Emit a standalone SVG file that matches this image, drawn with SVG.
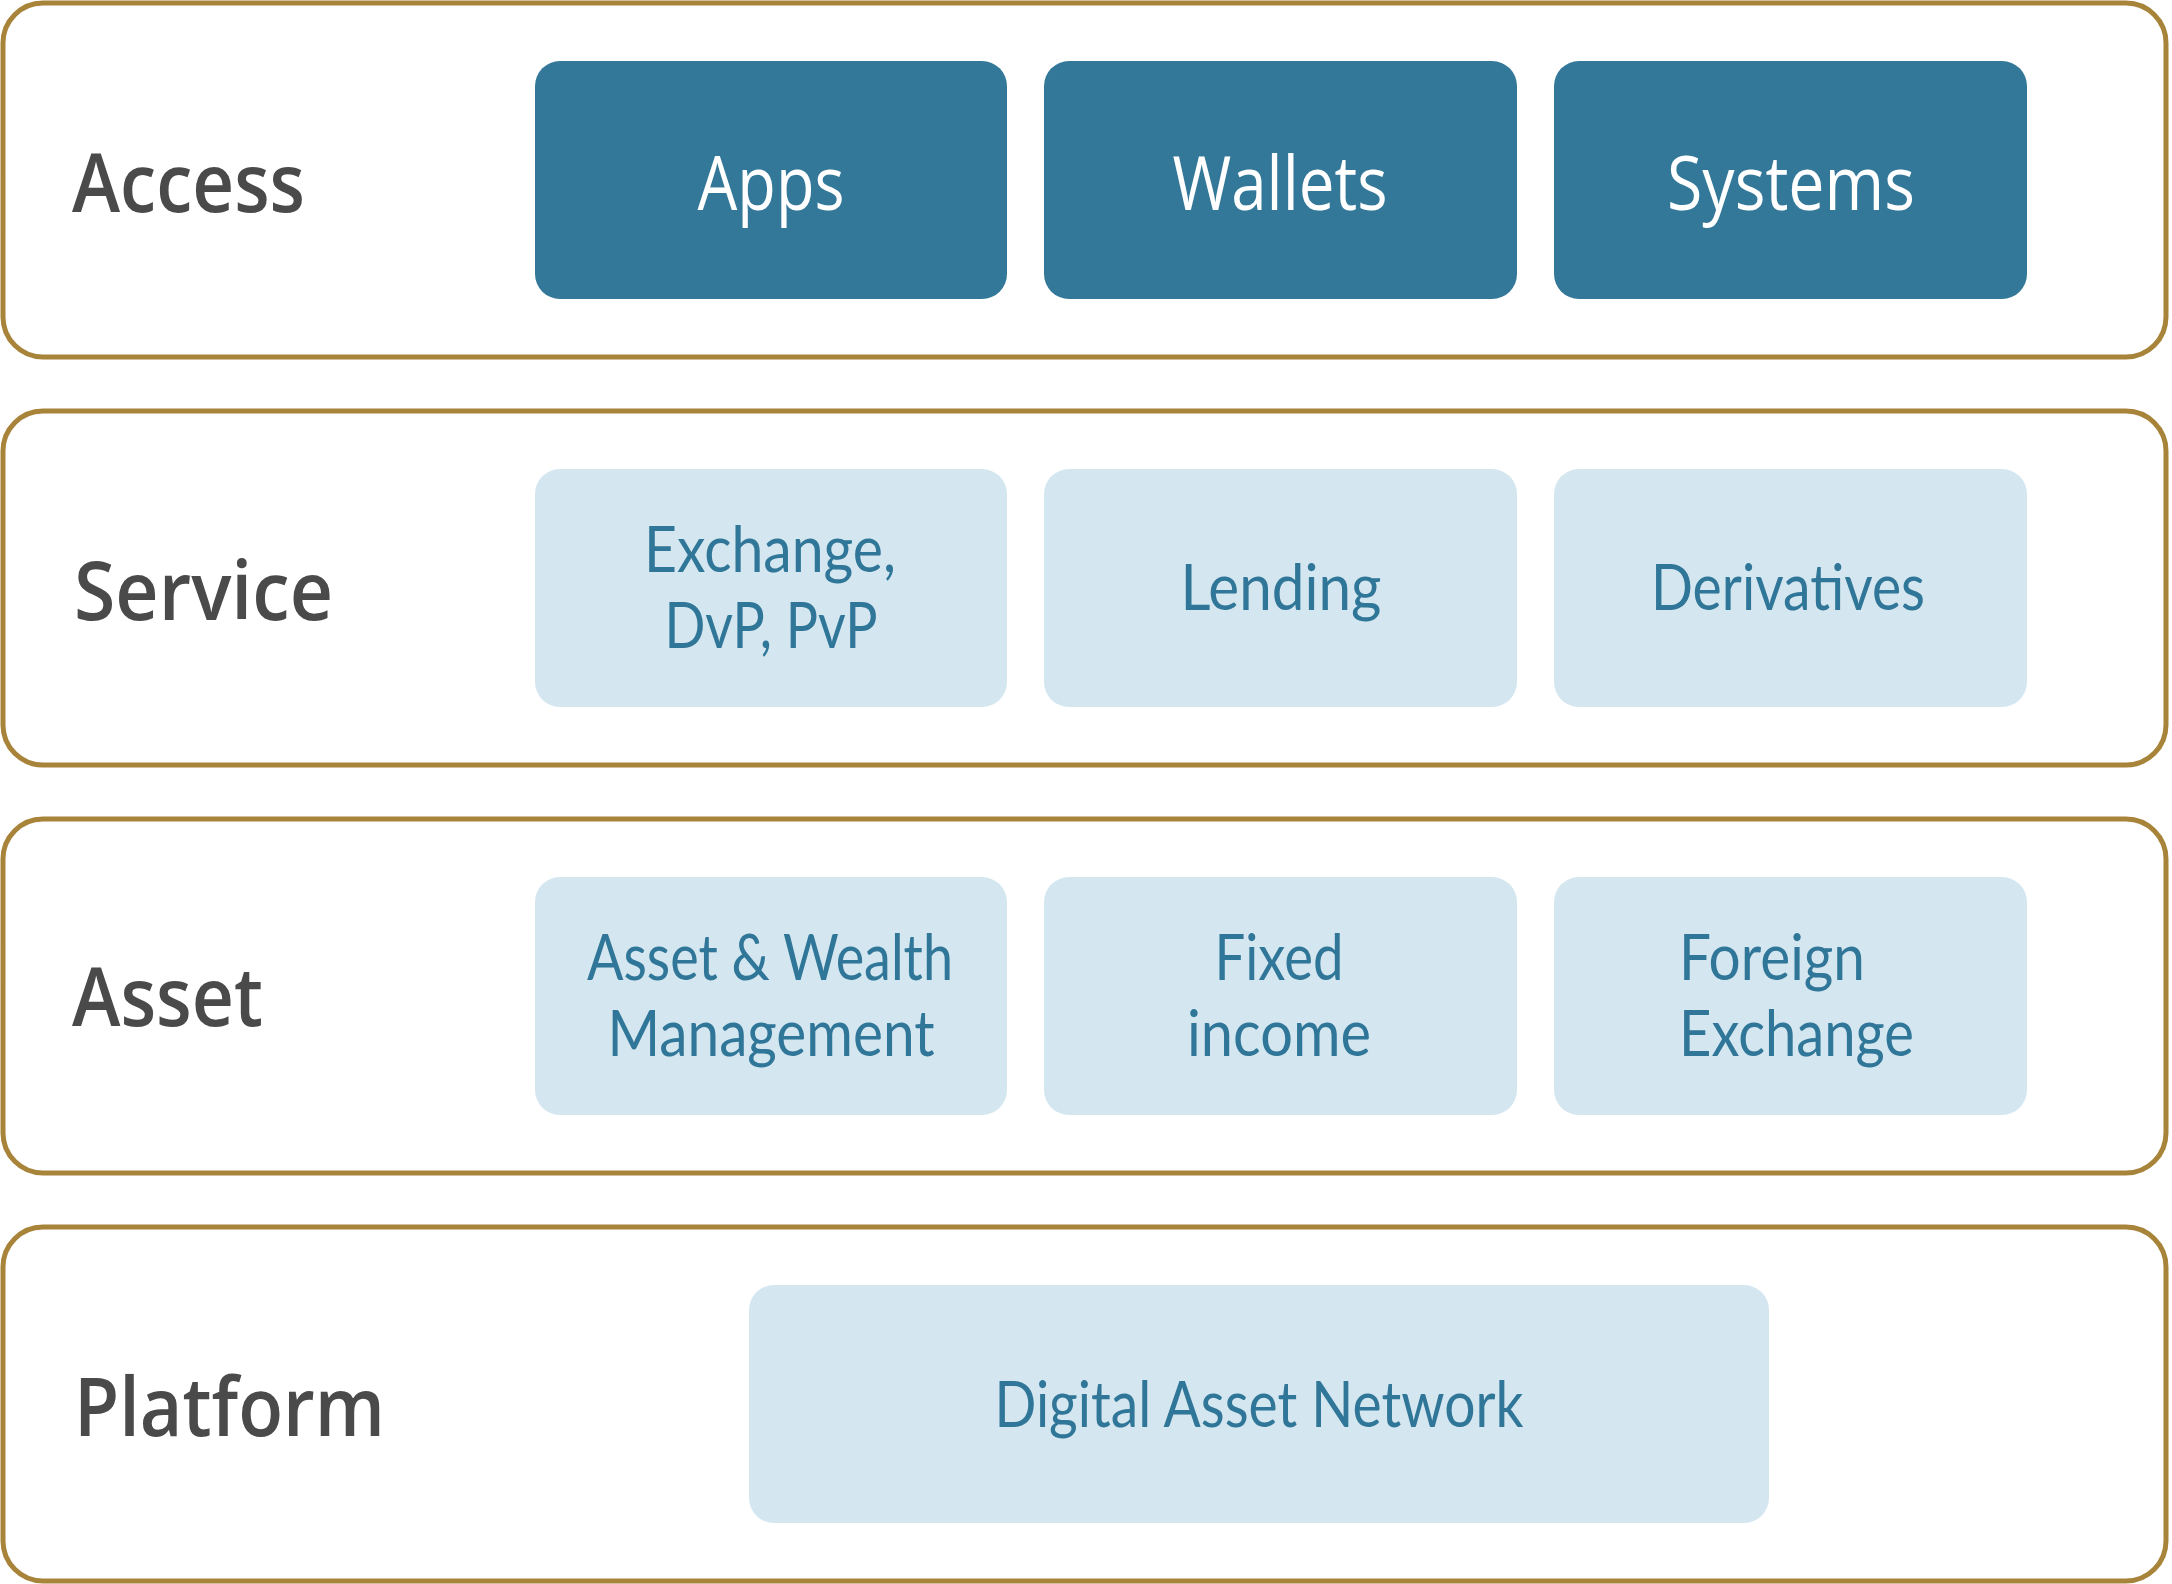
<svg xmlns="http://www.w3.org/2000/svg" width="2172" height="1584" viewBox="0 0 2172 1584">
<style>
.layer{fill:#FFFFFF;stroke:#A8843A;stroke-width:5}
.dark{fill:#337899}
.light{fill:#D4E6EF}
.lbl{font-family:"Open Sans","Noto Sans",sans-serif;font-weight:600;font-size:81px;fill:#4A4A4A}
.dt{font-family:"Open Sans","Noto Sans",sans-serif;font-weight:400;font-size:75px;fill:#FFFFFF;text-anchor:middle}
.lt{font-family:Lato,"Open Sans",sans-serif;font-weight:400;font-size:63px;fill:#2F7698;text-anchor:middle}
</style>
<rect width="2172" height="1584" fill="#FFFFFF"/>
<g id="layer-access">
<rect class="layer" x="3" y="3" width="2163" height="354" rx="40"/>
<text class="lbl" x="72" y="212" textLength="233" lengthAdjust="spacingAndGlyphs">Access</text>
</g>
<g id="node-apps">
<rect class="dark" x="535" y="61" width="472" height="238" rx="25"/>
<text class="dt" x="771" y="210" textLength="147" lengthAdjust="spacingAndGlyphs">Apps</text>
</g>
<g id="node-wallets">
<rect class="dark" x="1044" y="61" width="473" height="238" rx="25"/>
<text class="dt" x="1280" y="210" textLength="215" lengthAdjust="spacingAndGlyphs">Wallets</text>
</g>
<g id="node-systems">
<rect class="dark" x="1554" y="61" width="473" height="238" rx="25"/>
<text class="dt" x="1791" y="210" textLength="248" lengthAdjust="spacingAndGlyphs">Systems</text>
</g>
<g id="layer-service">
<rect class="layer" x="3" y="411" width="2163" height="354" rx="40"/>
<text class="lbl" x="74" y="620" textLength="259" lengthAdjust="spacingAndGlyphs">Service</text>
</g>
<g id="node-exchange">
<rect class="light" x="535" y="469" width="472" height="238" rx="25"/>
<text class="lt" x="770" y="572" textLength="252" lengthAdjust="spacingAndGlyphs">Exchange,</text>
<text class="lt" x="771" y="648" textLength="213" lengthAdjust="spacingAndGlyphs">DvP, PvP</text>
</g>
<g id="node-lending">
<rect class="light" x="1044" y="469" width="473" height="238" rx="25"/>
<text class="lt" x="1281" y="610" textLength="201" lengthAdjust="spacingAndGlyphs">Lending</text>
</g>
<g id="node-derivatives">
<rect class="light" x="1554" y="469" width="473" height="238" rx="25"/>
<text class="lt" x="1788" y="610" textLength="274" lengthAdjust="spacingAndGlyphs">Derivatives</text>
</g>
<g id="layer-asset">
<rect class="layer" x="3" y="819" width="2163" height="354" rx="40"/>
<text class="lbl" x="72" y="1026" textLength="191" lengthAdjust="spacingAndGlyphs">Asset</text>
</g>
<g id="node-wealth">
<rect class="light" x="535" y="877" width="472" height="238" rx="25"/>
<text class="lt" x="770" y="980" textLength="366" lengthAdjust="spacingAndGlyphs">Asset &amp; Wealth</text>
<text class="lt" x="771" y="1056" textLength="327" lengthAdjust="spacingAndGlyphs">Management</text>
</g>
<g id="node-fixed">
<rect class="light" x="1044" y="877" width="473" height="238" rx="25"/>
<text class="lt" x="1279" y="980" textLength="129" lengthAdjust="spacingAndGlyphs">Fixed</text>
<text class="lt" x="1279" y="1056" textLength="184" lengthAdjust="spacingAndGlyphs">income</text>
</g>
<g id="node-fx">
<rect class="light" x="1554" y="877" width="473" height="238" rx="25"/>
<text class="lt" x="1679" y="980" style="text-anchor:start" textLength="186" lengthAdjust="spacingAndGlyphs">Foreign</text>
<text class="lt" x="1679" y="1056" style="text-anchor:start" textLength="235" lengthAdjust="spacingAndGlyphs">Exchange</text>
</g>
<g id="layer-platform">
<rect class="layer" x="3" y="1227" width="2163" height="354" rx="40"/>
<text class="lbl" x="74" y="1436" textLength="311" lengthAdjust="spacingAndGlyphs">Platform</text>
</g>
<g id="node-network">
<rect class="light" x="749" y="1285" width="1020" height="238" rx="25"/>
<text class="lt" x="1259" y="1427" textLength="529" lengthAdjust="spacingAndGlyphs">Digital Asset Network</text>
</g>
<g id="connectors"></g>
</svg>
